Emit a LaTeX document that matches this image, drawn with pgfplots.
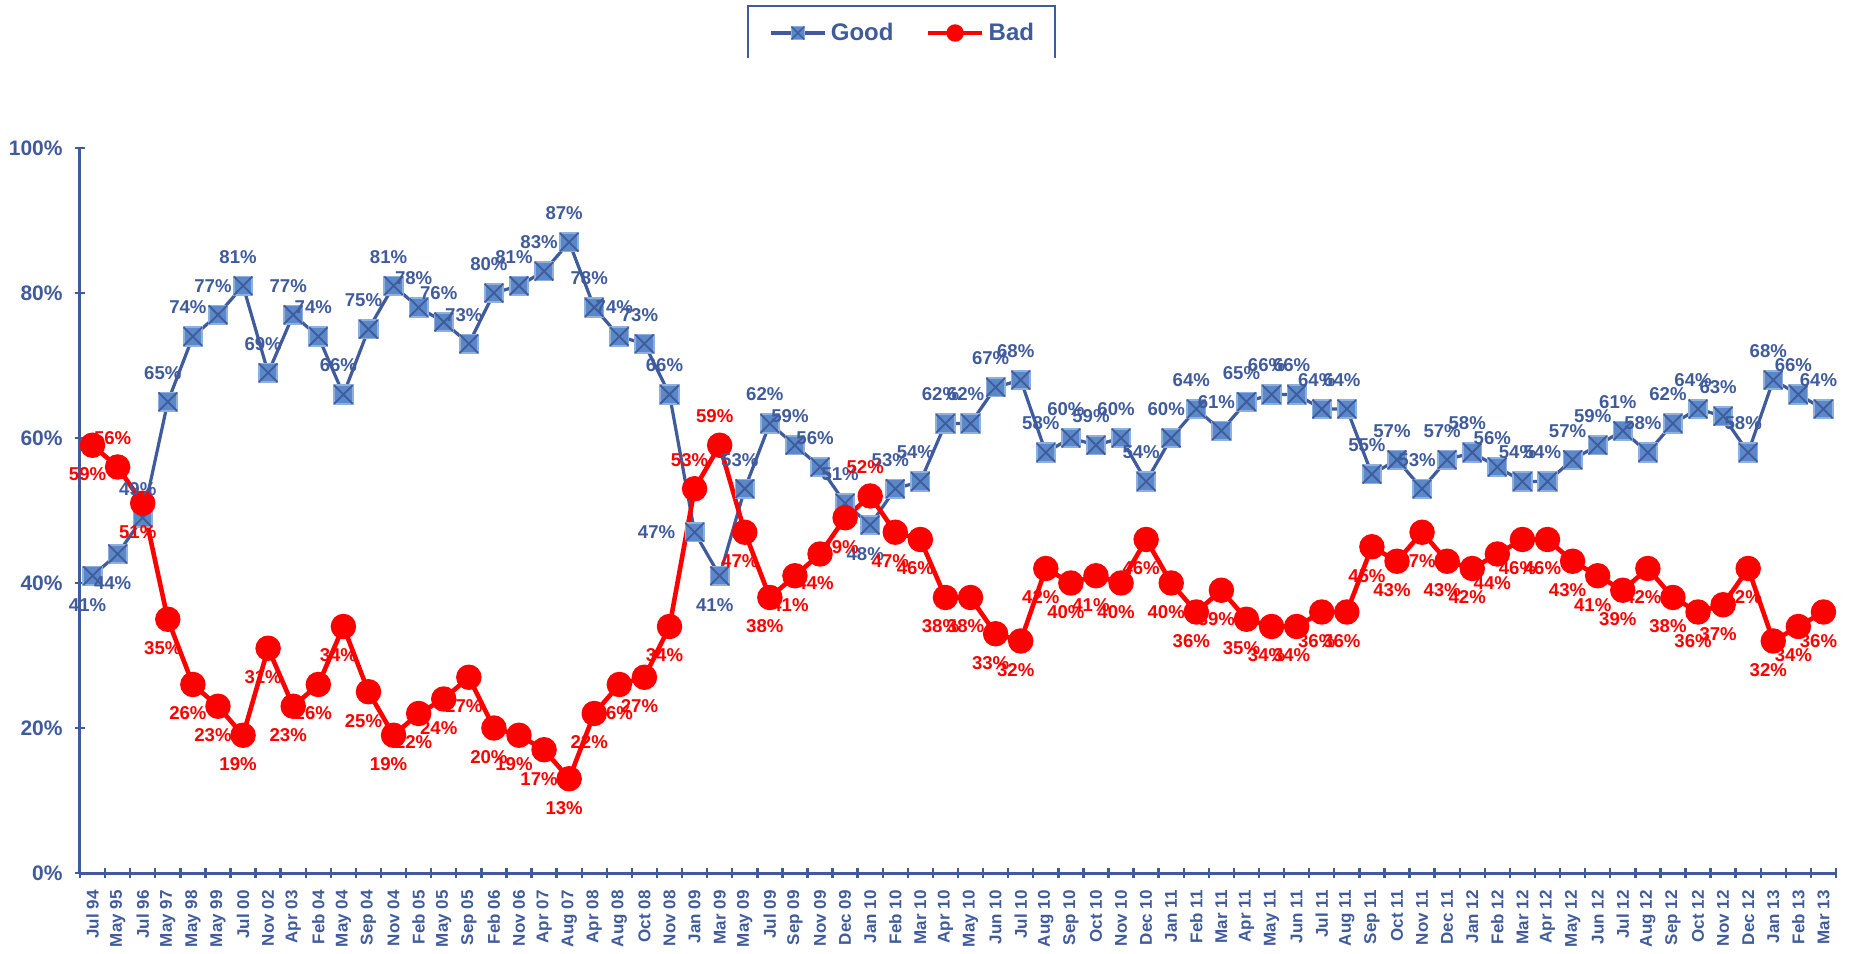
\documentclass[border=0pt]{standalone}
\usepackage{pgfplots}
\pgfplotsset{compat=1.18}
\usepackage{pgfplotstable}
\usepackage{fontspec}
\setmainfont{Liberation Sans}
\definecolor{axisblue}{HTML}{3F5B9C}
\definecolor{markfill}{HTML}{5A88C8}
\definecolor{markedge}{HTML}{8FB0DC}
\definecolor{badred}{HTML}{FF0000}

\pgfdeclareplotmark{sqx}{%
  \pgfsetstrokecolor{markedge}%
  \pgfsetfillcolor{markfill}%
  \pgfpathrectangle{\pgfqpoint{-\pgfplotmarksize}{-\pgfplotmarksize}}{\pgfqpoint{2\pgfplotmarksize}{2\pgfplotmarksize}}%
  \pgfusepathqfillstroke
  \pgfsetstrokecolor{axisblue}%
  \pgfpathmoveto{\pgfqpoint{-\pgfplotmarksize}{-\pgfplotmarksize}}%
  \pgfpathlineto{\pgfqpoint{\pgfplotmarksize}{\pgfplotmarksize}}%
  \pgfpathmoveto{\pgfqpoint{-\pgfplotmarksize}{\pgfplotmarksize}}%
  \pgfpathlineto{\pgfqpoint{\pgfplotmarksize}{-\pgfplotmarksize}}%
  \pgfusepathqstroke
}

\pgfplotstableread{
x g b
0 41 59
1 44 56
2 49 51
3 65 35
4 74 26
5 77 23
6 81 19
7 69 31
8 77 23
9 74 26
10 66 34
11 75 25
12 81 19
13 78 22
14 76 24
15 73 27
16 80 20
17 81 19
18 83 17
19 87 13
20 78 22
21 74 26
22 73 27
23 66 34
24 47 53
25 41 59
26 53 47
27 62 38
28 59 41
29 56 44
30 51 49
31 48 52
32 53 47
33 54 46
34 62 38
35 62 38
36 67 33
37 68 32
38 58 42
39 60 40
40 59 41
41 60 40
42 54 46
43 60 40
44 64 36
45 61 39
46 65 35
47 66 34
48 66 34
49 64 36
50 64 36
51 55 45
52 57 43
53 53 47
54 57 43
55 58 42
56 56 44
57 54 46
58 54 46
59 57 43
60 59 41
61 61 39
62 58 42
63 62 38
64 64 36
65 63 37
66 58 42
67 68 32
68 66 34
69 64 36
}\data

\pgfplotsset{
  lbl/.style={forget plot, draw=none, mark=none, point meta=explicit,
    nodes near coords={\pgfmathprintnumber[assume math mode=true,fixed,precision=0]{\pgfplotspointmeta}\%},
    every node near coord/.append style={font=\bfseries\fontsize{9.3}{10}\selectfont,
      inner xsep=7pt, inner ysep=11pt, xshift=-2.5pt, anchor=#1}},
}

\begin{document}
\begin{tikzpicture}
\path[use as bounding box] (-40pt,-40pt) rectangle (885.5pt,436.5pt);
\begin{axis}[
  scale only axis, width=878pt, height=362.5pt,
  xmin=-0.5, xmax=69.5, ymin=0, ymax=100,
  axis x line=bottom, axis y line=left,
  axis line style={-, axisblue, line width=1.5pt},
  xtick={0,...,69},
  xticklabels={Jul 94,May 95,Jul 96,May 97,May 98,May 99,Jul 00,Nov 02,Apr 03,Feb 04,May 04,Sep 04,Nov 04,Feb 05,May 05,Sep 05,Feb 06,Nov 06,Apr 07,Aug 07,Apr 08,Aug 08,Oct 08,Nov 08,Jan 09,Mar 09,May 09,Jul 09,Sep 09,Nov 09,Dec 09,Jan 10,Feb 10,Mar 10,Apr 10,May 10,Jun 10,Jul 10,Aug 10,Sep 10,Oct 10,Nov 10,Dec 10,Jan 11,Feb 11,Mar 11,Apr 11,May 11,Jun 11,Jul 11,Aug 11,Sep 11,Oct 11,Nov 11,Dec 11,Jan 12,Feb 12,Mar 12,Apr 12,May 12,Jun 12,Jul 12,Aug 12,Sep 12,Oct 12,Nov 12,Dec 12,Jan 13,Feb 13,Mar 13},
  minor xtick={-0.5,0.5,...,69.5},
  every major x tick/.append style={draw=none},
  ytick={0,20,...,100},
  yticklabels={0\%,20\%,40\%,60\%,80\%,100\%},
  tick align=center,
  major tick length=5pt, minor tick length=5pt,
  every tick/.append style={axisblue, line width=1.2pt},
  xticklabel style={rotate=90, anchor=east, font=\bfseries\fontsize{8.5}{9}\selectfont, text=axisblue, inner sep=0pt},
  xticklabel shift=6pt,
  yticklabel style={font=\bfseries\fontsize{10.5}{12}\selectfont, text=axisblue, inner sep=0pt},
  yticklabel shift=6pt,
  clip=false,
  legend style={at={(0.469,1.1586)}, anchor=center, draw=none, fill=none,
    legend columns=2, font=\bfseries\fontsize{12}{14}\selectfont, text=axisblue,
    /tikz/every even column/.append style={column sep=14pt}},
  legend image code/.code={\draw[mark repeat=2, mark phase=2, #1, mark size=3.2pt] plot coordinates {(0cm,0cm) (0.48cm,0cm) (0.96cm,0cm)};},
]
% lines with markers
\addplot[axisblue, line width=1.6pt, mark=sqx, mark size=4.6pt, mark options={line width=0.9pt}, forget plot]
  table[x=x, y=g] {\data};
\addplot[badred, line width=2.3pt, mark=*, mark size=5.2pt, mark options={fill=badred, draw=badred}, forget plot]
  table[x=x, y=b] {\data};
% Good labels
\addplot[lbl=south, every node near coord/.append style={text=axisblue},
  x filter/.expression={(x==0 || x==1 || x==24 || x==25 || x==31) ? nan : x}]
  table[x=x, y=g, meta=g] {\data};
\addplot[lbl=north, every node near coord/.append style={text=axisblue},
  x filter/.expression={(x==0 || x==1 || x==25 || x==31) ? x : nan}]
  table[x=x, y=g, meta=g] {\data};
\addplot[lbl=east, every node near coord/.append style={text=axisblue},
  x filter/.expression={(x==24) ? x : nan}]
  table[x=x, y=g, meta=g] {\data};
% Bad labels
\addplot[lbl=north, every node near coord/.append style={text=badred},
  x filter/.expression={(x==1 || x==24 || x==25 || x==31) ? nan : x}]
  table[x=x, y=b, meta=b] {\data};
\addplot[lbl=south, every node near coord/.append style={text=badred},
  x filter/.expression={(x==1 || x==24 || x==25 || x==31) ? x : nan}]
  table[x=x, y=b, meta=b] {\data};
\addlegendimage{axisblue, line width=1.6pt, mark=sqx, mark options={line width=0.7pt}}
\addlegendentry{Good}
\addlegendimage{badred, line width=2.3pt, mark=*, mark options={fill=badred, draw=badred}}
\addlegendentry{Bad}
\end{axis}
\draw[axisblue, line width=1pt] (334pt,407.5pt) -- (334pt,433.5pt) -- (487.5pt,433.5pt) -- (487.5pt,407.5pt);
\end{tikzpicture}
\end{document}
